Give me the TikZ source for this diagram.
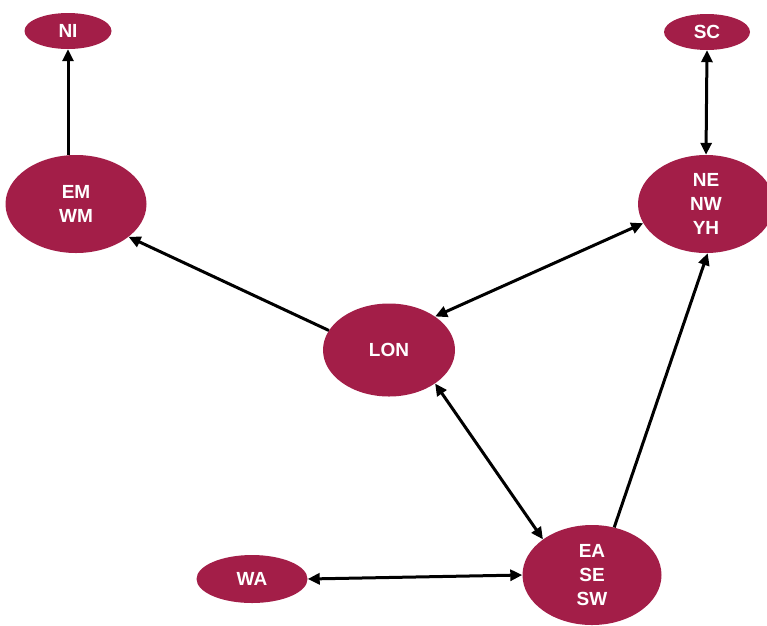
\documentclass[tikz,border=0pt]{standalone}
\usepackage{fontspec}
\setmainfont{Liberation Sans}
\usetikzlibrary{shapes.geometric,arrows.meta}
\definecolor{berry}{RGB}{163,30,72}
\begin{document}
\begin{tikzpicture}[x=1pt,y=-1pt,
  region/.style={ellipse,fill=berry,draw=none,inner sep=0pt,text=white,
    font=\fontsize{19}{24}\selectfont\bfseries,align=center},
  link/.style={line width=3pt,draw=black},
  tip/.style={-{Triangle[length=12pt,width=11pt]}},
  tips/.style={{Triangle[length=12pt,width=11pt]}-{Triangle[length=12pt,width=11pt]}}]
\useasboundingbox (0,0) rectangle (767,625);
\node[region,minimum width=87pt,minimum height=36pt] (NI) at (68,31) {NI};
\node[region,minimum width=86pt,minimum height=36pt] (SC) at (707,32) {SC};
\node[region,minimum width=141pt,minimum height=98pt] (EM) at (76,204) {EM\\WM};
\node[region,minimum width=136pt,minimum height=98pt] (NE) at (706,204) {NE\\NW\\YH};
\node[region,minimum width=132pt,minimum height=93pt] (LON) at (389,350) {LON};
\node[region,minimum width=111pt,minimum height=48pt] (WA) at (252,579) {WA};
\node[region,minimum width=139pt,minimum height=100pt] (EA) at (592,575) {EA\\SE\\SW};
\draw[link,tip] (EM.north -| NI.south) -- (NI.south);
\draw[link,tips] (SC.south) -- (NE.north);
\draw[link,tip] (LON.162) -- (EM.-32);
\draw[link,tips] (LON.36) -- (NE.197);
\draw[link,tips] (LON.-36) -- (EA.144);
\draw[link,tip] (EA.65) -- (NE.-88);
\draw[link,tips] (WA.east) -- (EA.west);
\end{tikzpicture}
\end{document}
